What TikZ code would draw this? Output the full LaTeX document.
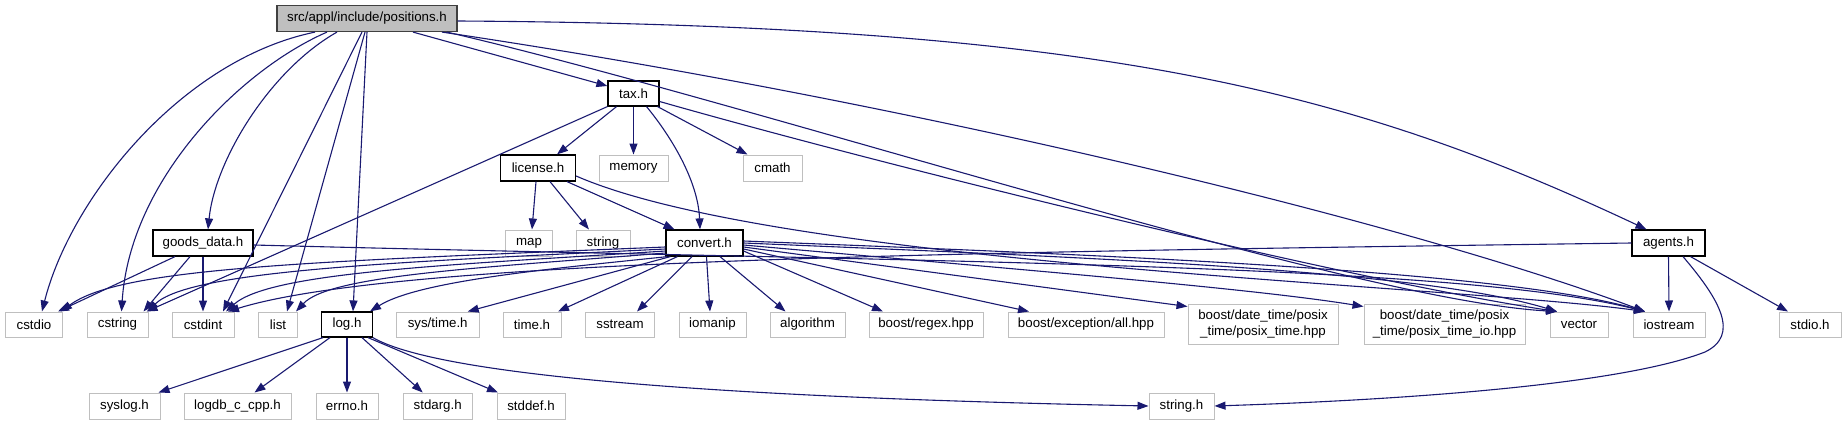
\documentclass[tikz,border=0pt]{standalone}
\usepackage{fontspec}
\setmainfont{Liberation Sans}
\usetikzlibrary{arrows.meta}
\definecolor{edgec}{RGB}{25,25,112}
\definecolor{grayb}{RGB}{191,191,191}
\definecolor{rootb}{RGB}{64,64,64}
\begin{document}
\begin{tikzpicture}[x=1pt,y=-1pt,
  box/.style={draw, inner sep=0pt, minimum height=25pt, font=\fontsize{13.3}{16}\selectfont, align=center},
  sysbox/.style={box, draw=grayb, line width=1pt},
  locbox/.style={box, draw=black, line width=1.2pt},
  rootbox/.style={box, draw=rootb, fill=grayb, line width=1.2pt, minimum height=26pt},
  dep/.style={draw=edgec, line width=1.1pt, -{Triangle[length=11pt,width=8pt]}},
]
\useasboundingbox (0,0) rectangle (1846,425);
% nodes
\node[rootbox, minimum width=180pt] (positions) at (367,18.5) {src/appl/include/positions.h};
\node[locbox, minimum width=51pt] (tax) at (633.5,93.5) {tax.h};
\node[locbox, minimum width=75pt, minimum height=26pt] (license) at (538,168) {license.h};
\node[sysbox, minimum width=69pt, minimum height=26pt] (memory) at (633.5,168) {memory};
\node[sysbox, minimum width=59pt, minimum height=26pt] (cmath) at (772.5,168) {cmath};
\node[locbox, minimum width=100pt, minimum height=26pt] (goods) at (203,243) {goods\_data.h};
\node[sysbox, minimum width=47pt, minimum height=26pt] (map) at (529,243) {map};
\node[sysbox, minimum width=54pt, minimum height=26pt] (string) at (603,243) {string};
\node[locbox, minimum width=77pt, minimum height=26pt] (convert) at (704.5,243) {convert.h};
\node[locbox, minimum width=73pt, minimum height=26pt] (agents) at (1668.5,243) {agents.h};
\node[sysbox, minimum width=57.5pt] (cstdio) at (34,324.5) {cstdio};
\node[sysbox, minimum width=61pt] (cstring) at (117.5,324.5) {cstring};
\node[sysbox, minimum width=62pt] (cstdint) at (203,324.5) {cstdint};
\node[sysbox, minimum width=39pt] (list) at (278,324.5) {list};
\node[locbox, minimum width=50.6pt] (log) at (347,324.5) {log.h};
\node[sysbox, minimum width=83pt] (systime) at (437.7,324.5) {sys/time.h};
\node[sysbox, minimum width=58pt] (timeh) at (532,324.5) {time.h};
\node[sysbox, minimum width=69pt] (sstream) at (620,324.5) {sstream};
\node[sysbox, minimum width=67pt] (iomanip) at (712.5,324.5) {iomanip};
\node[sysbox, minimum width=75pt] (algorithm) at (807.5,324.5) {algorithm};
\node[sysbox, minimum width=114pt] (regex) at (926,324.5) {boost/regex.hpp};
\node[sysbox, minimum width=156pt] (exception) at (1086,324.5) {boost/exception/all.hpp};
\node[sysbox, minimum width=150pt, minimum height=40pt] (posixtime) at (1263,324) {boost/date\_time/posix\\\_time/posix\_time.hpp};
\node[sysbox, minimum width=161pt, minimum height=40pt] (posixtimeio) at (1444.5,324) {boost/date\_time/posix\\\_time/posix\_time\_io.hpp};
\node[sysbox, minimum width=58pt] (vector) at (1579,324.5) {vector};
\node[sysbox, minimum width=72pt] (iostream) at (1669,324.5) {iostream};
\node[sysbox, minimum width=62pt] (stdio) at (1810,324.5) {stdio.h};
\node[sysbox, minimum width=71pt, minimum height=26pt] (syslog) at (124.5,406) {syslog.h};
\node[sysbox, minimum width=107pt, minimum height=26pt] (logdb) at (237.5,406) {logdb\_c\_cpp.h};
\node[sysbox, minimum width=62pt, minimum height=26pt] (errno) at (347,406) {errno.h};
\node[sysbox, minimum width=69pt, minimum height=26pt] (stdarg) at (437.7,406) {stdarg.h};
\node[sysbox, minimum width=68pt, minimum height=26pt] (stddef) at (531,406) {stddef.h};
\node[sysbox, minimum width=65pt, minimum height=26pt] (stringh) at (1181.5,406) {string.h};
% positions.h
\draw[dep] ([xshift=-52pt]positions.south) .. controls (180,60) and (70,200) .. ([xshift=8pt]cstdio.north);
\draw[dep] ([xshift=-40pt]positions.south) .. controls (240,70) and (130,180) .. ([xshift=4pt]cstring.north);
\draw[dep] ([xshift=-30pt]positions.south) .. controls (270,70) and (215,160) .. ([xshift=5pt]goods.north);
\draw[dep] ([xshift=-5pt]positions.south) -- ([xshift=20pt]cstdint.north);
\draw[dep] ([xshift=-2pt]positions.south) -- ([xshift=9pt]list.north);
\draw[dep] (positions.south) -- ([xshift=6pt]log.north);
\draw[dep] ([xshift=46pt]positions.south) -- ([yshift=7.5pt]tax.west);
\draw[dep] ([xshift=75pt]positions.south) .. controls (900,100) and (1400,220) .. ([xshift=-24pt]iostream.north);
\draw[dep] ([xshift=80pt]positions.south) .. controls (760,105) and (1350,300) .. ([xshift=-22pt]vector.north);
\draw[dep] ([yshift=-2.5pt]positions.east) .. controls (1100,25) and (1350,90) .. ([xshift=-22pt]agents.north);
% tax.h
\draw[dep] (tax.south west) -- ([xshift=29pt]cstring.north);
\draw[dep] ([xshift=-17pt]tax.south) -- ([xshift=19pt]license.north);
\draw[dep] (tax.south) -- (memory.north);
\draw[dep] ([xshift=24pt]tax.south) -- ([xshift=-25pt]cmath.north);
\draw[dep] ([xshift=13pt]tax.south) .. controls (670,135) and (698,180) .. ([xshift=-4.5pt]convert.north);
\draw[dep] ([yshift=-8pt]tax.east) .. controls (900,170) and (1350,280) .. ([xshift=-22pt]vector.north);
% license.h
\draw[dep] ([xshift=-2pt]license.south) -- ([xshift=3pt]map.north);
\draw[dep] ([xshift=12pt]license.south) -- ([xshift=-14pt]string.north);
\draw[dep] ([xshift=29pt]license.south) -- ([xshift=-30pt]convert.north);
\draw[dep] ([yshift=-8pt]license.east) .. controls (780,265) and (1450,285) .. ([xshift=-24pt]iostream.north);
% goods_data.h
\draw[dep] ([xshift=-28pt]goods.south) -- ([xshift=24pt]cstdio.north);
\draw[dep] ([xshift=-13pt]goods.south) -- ([xshift=26pt]cstring.north);
\draw[dep] (goods.south) -- (cstdint.north);
\draw[dep] ([yshift=-2pt]goods.east) .. controls (900,262) and (1450,262) .. ([xshift=-24pt]iostream.north);
% convert.h
\draw[dep] ([yshift=-4pt]convert.west) .. controls (300,262) and (120,268) .. ([xshift=27pt]cstdio.north);
\draw[dep] ([yshift=-6pt]convert.west) .. controls (400,262) and (190,270) .. ([xshift=30pt]cstring.north);
\draw[dep] ([yshift=-8pt]convert.west) .. controls (450,265) and (270,272) .. ([xshift=23pt]cstdint.north);
\draw[dep] ([yshift=-10pt]convert.west) .. controls (480,268) and (330,275) .. ([xshift=18pt]list.north);
\draw[dep] ([xshift=2pt]convert.south west) .. controls (560,268) and (420,280) .. ([xshift=23pt]log.north);
\draw[dep] ([xshift=5pt]convert.south west) -- ([xshift=30pt]systime.north);
\draw[dep] ([xshift=12pt]convert.south west) -- ([xshift=26pt]timeh.north);
\draw[dep] ([xshift=-12.5pt]convert.south) -- ([xshift=17pt]sstream.north);
\draw[dep] ([xshift=2pt]convert.south) -- ([xshift=-2.5pt]iomanip.north);
\draw[dep] ([xshift=15.5pt]convert.south) -- ([xshift=-22pt]algorithm.north);
\draw[dep] ([yshift=-8pt]convert.east) -- ([xshift=-43pt]regex.north);
\draw[dep] ([yshift=-6pt]convert.east) -- ([xshift=-57pt]exception.north);
\draw[dep] ([yshift=-4pt]convert.east) -- ([yshift=-3pt]posixtime.north west);
\draw[dep] ([yshift=-2pt]convert.east) .. controls (1000,268) and (1250,288) .. ([yshift=-3pt]posixtimeio.north west);
\draw[dep] (convert.east) .. controls (1100,258) and (1420,270) .. ([xshift=-22pt]vector.north);
\draw[dep] ([yshift=2pt]convert.east) .. controls (1100,255) and (1500,270) .. ([xshift=-24pt]iostream.north);
% agents.h
\draw[dep] (agents.south) -- (iostream.north);
\draw[dep] ([xshift=22pt]agents.south) -- ([xshift=-22pt]stdio.north);
\draw[dep] ([xshift=14.5pt]agents.south) .. controls (1720,300) and (1740,335) .. (1705,352) .. controls (1620,385) and (1400,400) .. (stringh.east);
\draw[dep] (agents.west) .. controls (1000,252) and (400,258) .. ([xshift=25pt]cstdint.north);
% log.h
\draw[dep] ([xshift=2pt]log.south west) -- ([xshift=-2pt]syslog.north east);
\draw[dep] ([xshift=-17pt]log.south) -- ([xshift=17pt]logdb.north);
\draw[dep] (log.south) -- (errno.north);
\draw[dep] ([xshift=15pt]log.south) -- ([xshift=-15pt]stdarg.north);
\draw[dep] ([xshift=21pt]log.south) -- ([xshift=-33pt]stddef.north);
\draw[dep] (log.south east) .. controls (420,365) and (600,395) .. (stringh.west);
\end{tikzpicture}
\end{document}
